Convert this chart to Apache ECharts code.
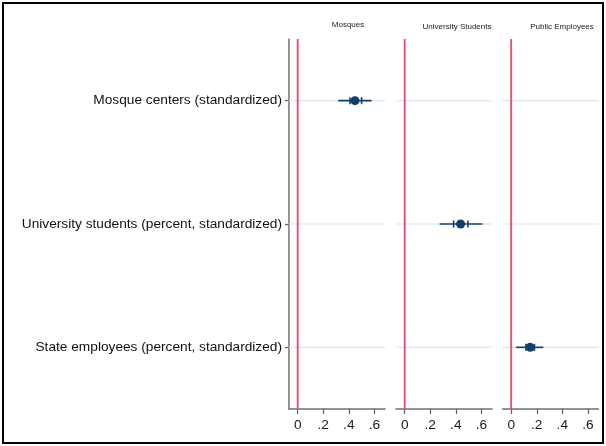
<!DOCTYPE html>
<html>
<head>
<meta charset="utf-8">
<script src="https://cdn.jsdelivr.net/npm/echarts@6/dist/echarts.min.js"></script>
<style>
html,body{margin:0;padding:0;background:#fff;}
#chart{width:606px;height:446px;}
</style>
</head>
<body>
<div id="chart"></div>
<script>
// ---- data ----
const categories = ['Mosque centers (standardized)', 'University students (percent, standardized)', 'State employees (percent, standardized)'];
const panelTitles = ['Mosques', 'University Students', 'Public Employees'];
const estimates = [0.448, 0.437, 0.148];
const outerLow  = [0.317, 0.273, 0.039];
const outerHigh = [0.578, 0.609, 0.252];
const innerLow  = [0.409, 0.383, 0.115];
const innerHigh = [0.500, 0.495, 0.182];
const xTicks = [0, 0.2, 0.4, 0.6];
const xTickLabels = ['0', '.2', '.4', '.6'];
const refX = 0;

const FONT = 'Liberation Sans, Arial, sans-serif';
const navy = '#12406b';
const red = '#ec4d6c';
const panelLefts = [289, 396, 502.5];
const titlePos = [[348, 25], [457, 27], [562, 27]];

const grids = [], xAxes = [], yAxes = [], series = [], graphics = [];

panelLefts.forEach((left, p) => {
  grids.push({ left: left, width: 96, top: 39, bottom: 37 });
  xAxes.push({
    type: 'value', gridIndex: p, min: -0.068, max: 0.683,
    axisLine: { show: true, onZero: false, lineStyle: { color: '#707070', width: 1.5 } },
    axisTick: { show: true, length: 5, customValues: xTicks, lineStyle: { color: '#606060', width: 1.2 } },
    axisLabel: {
      customValues: xTicks, margin: 9, color: '#1a1a1a', fontSize: 13.7, fontFamily: FONT,
      formatter: v => { const i = xTicks.findIndex(t => Math.abs(t - v) < 1e-6); return i >= 0 ? xTickLabels[i] : ''; }
    },
    splitLine: { show: false }
  });
  yAxes.push({
    type: 'category', gridIndex: p, data: categories, inverse: true,
    axisLine: { show: p === 0, onZero: false, lineStyle: { color: '#707070', width: 1.5 } },
    axisTick: { show: p === 0, alignWithLabel: true, length: 4, lineStyle: { color: '#606060', width: 1.2 } },
    axisLabel: { show: p === 0, margin: 7, color: '#111', fontSize: 13.7, fontFamily: FONT },
    splitLine: { show: false }
  });
  // light horizontal row lines (under everything)
  series.push({
    type: 'custom', xAxisIndex: p, yAxisIndex: p, z: 1, silent: true,
    data: categories.map((c, i) => [i]),
    renderItem: (params, api) => {
      const cs = params.coordSys;
      const y = api.coord([0, api.value(0)])[1];
      return { type: 'line', shape: { x1: cs.x, y1: y, x2: cs.x + cs.width, y2: y },
               style: { stroke: '#e2ecf2', lineWidth: 1.6 } };
    }
  });
  // red reference line at zero
  series.push({
    type: 'custom', xAxisIndex: p, yAxisIndex: p, z: 2, silent: true,
    data: [[refX]],
    renderItem: (params, api) => {
      const cs = params.coordSys;
      const x = api.coord([api.value(0), 0])[0];
      return { type: 'line', shape: { x1: x, y1: cs.y, x2: x, y2: cs.y + cs.height },
               style: { stroke: red, lineWidth: 1.9 } };
    }
  });
  // error bar (custom)
  series.push({
    type: 'custom', xAxisIndex: p, yAxisIndex: p, z: 3, silent: true,
    data: [[p, outerLow[p], outerHigh[p], innerLow[p], innerHigh[p]]],
    renderItem: (params, api) => {
      const cat = api.value(0);
      const a = api.coord([api.value(1), cat]);
      const b = api.coord([api.value(2), cat]);
      const c = api.coord([api.value(3), cat]);
      const d = api.coord([api.value(4), cat]);
      const st = { stroke: navy, lineWidth: 1.6 };
      return { type: 'group', children: [
        { type: 'line', shape: { x1: a[0], y1: a[1], x2: b[0], y2: b[1] }, style: st },
        { type: 'line', shape: { x1: c[0], y1: c[1] - 3.5, x2: c[0], y2: c[1] + 3.5 }, style: st },
        { type: 'line', shape: { x1: d[0], y1: d[1] - 3.5, x2: d[0], y2: d[1] + 3.5 }, style: st }
      ]};
    }
  });
  series.push({
    type: 'scatter', xAxisIndex: p, yAxisIndex: p, z: 4, silent: true,
    symbol: 'circle', symbolSize: 9,
    itemStyle: { color: navy, opacity: 1 },
    data: [[estimates[p], categories[p]]]
  });
  graphics.push({
    type: 'text', x: titlePos[p][0], y: titlePos[p][1],
    style: { text: panelTitles[p], font: '8px ' + FONT, fill: '#222', align: 'center', verticalAlign: 'middle' }
  });
});

graphics.push({
  type: 'rect', shape: { x: 3, y: 3, width: 600, height: 440 },
  style: { fill: 'none', stroke: '#000', lineWidth: 2 }, z: 100
});

const chart = echarts.init(document.getElementById('chart'), null, { renderer: 'canvas' });
chart.setOption({
  animation: false,
  backgroundColor: '#fff',
  grid: grids, xAxis: xAxes, yAxis: yAxes, series: series, graphic: graphics
});
</script>
</body>
</html>
